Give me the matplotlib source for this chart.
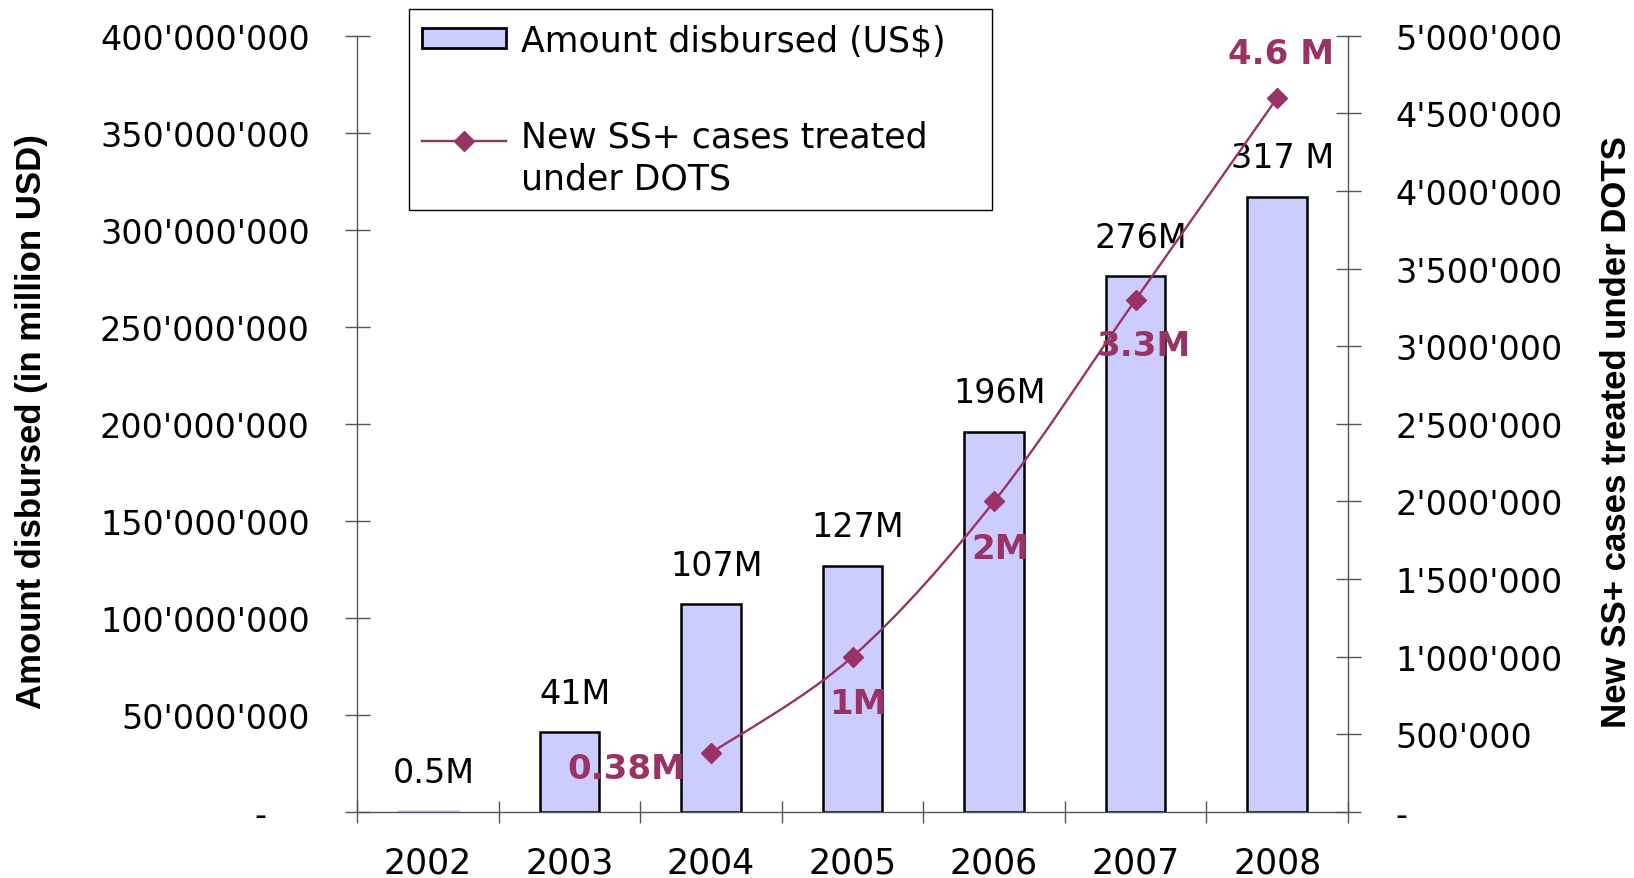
import matplotlib
matplotlib.use('Agg')
import matplotlib.pyplot as plt
from matplotlib.path import Path
from matplotlib.patches import PathPatch
from matplotlib.lines import Line2D
from matplotlib.offsetbox import HPacker, DrawingArea
from matplotlib.ticker import FuncFormatter, MultipleLocator

years = ['2002', '2003', '2004', '2005', '2006', '2007', '2008']
disbursed = [0.5e6, 41e6, 107e6, 127e6, 196e6, 276e6, 317e6]
disbursed_labels = ['0.5M', '41M', '107M', '127M', '196M', '276M', '317 M']

case_years = ['2004', '2005', '2006', '2007', '2008']
cases = [0.38e6, 1.0e6, 2.0e6, 3.3e6, 4.6e6]
case_labels = ['0.38M', '1M', '2M', '3.3M', '4.6 M']
# label placement around each marker, in points
case_label_offsets = [(-61, -11), (4, -34), (4, -34), (6, -33), (3, 32)]

bar_color = '#CCCCFF'
line_color = '#993366'
axis_color = '#555555'

plt.rcParams['font.family'] = 'DejaVu Sans'

fig = plt.figure(figsize=(16.34, 8.79), dpi=100)
ax = fig.add_axes([357 / 1634, 1 - 813 / 879, 991 / 1634, 776.3 / 879])
ax2 = ax.twinx()


def apostrophe(v, pos):
    if v == 0:
        return '-'
    return f'{v:,.0f}'.replace(',', "'")


def apostrophe_left(v, pos):
    if v == 0:
        return '-    '
    return apostrophe(v, pos)


# bars: amount disbursed (a sliver of a bar gets no outline)
xs = list(range(len(years)))
edges = ['black' if v >= 5e6 else bar_color for v in disbursed]
bars = ax.bar(xs, disbursed, width=0.42, color=bar_color, edgecolor=edges,
              linewidth=1.8, zorder=2)
for x, v, lab in zip(xs, disbursed, disbursed_labels):
    ax.annotate(lab, (x, v), xytext=(4, 28), textcoords='offset points',
                ha='center', va='center', fontsize=24, color='black', zorder=3)

ax.set_xlim(-0.5, len(years) - 0.5)
ax.set_ylim(0, 400e6)
ax.yaxis.set_major_locator(MultipleLocator(50e6))
ax.yaxis.set_major_formatter(FuncFormatter(apostrophe_left))
ax.set_xticks([i - 0.5 for i in range(len(years) + 1)])
ax.set_xticklabels([])
ax.set_xticks(xs, minor=True)
ax.set_xticklabels(years, minor=True)
ax.tick_params(axis='x', which='major', direction='inout', length=16,
               width=1, color=axis_color)
ax.tick_params(axis='x', which='minor', length=0, pad=24, labelsize=25)
ax.tick_params(axis='y', direction='inout', length=18, width=1,
               color=axis_color, pad=25, labelsize=24)

# smoothed line for cases treated (cubic bezier through the points)
cx = [years.index(y) for y in case_years]
pts = list(zip(cx, cases))
verts = [pts[0]]
codes = [Path.MOVETO]
for i in range(len(pts) - 1):
    p0 = pts[i - 1] if i > 0 else pts[i]
    p1 = pts[i]
    p2 = pts[i + 1]
    p3 = pts[i + 2] if i + 2 < len(pts) else pts[i + 1]
    c1 = (p1[0] + (p2[0] - p0[0]) / 6, p1[1] + (p2[1] - p0[1]) / 6)
    c2 = (p2[0] - (p3[0] - p1[0]) / 6, p2[1] - (p3[1] - p1[1]) / 6)
    verts += [c1, c2, p2]
    codes += [Path.CURVE4] * 3
ax2.add_patch(PathPatch(Path(verts, codes), fill=False, edgecolor=line_color,
                        linewidth=1.7, zorder=2))
ax2.plot(cx, cases, linestyle='none', marker='D', markersize=10,
         color=line_color, zorder=3)
for x, v, lab, off in zip(cx, cases, case_labels, case_label_offsets):
    ax2.annotate(lab, (x, v), xytext=off, textcoords='offset points',
                 ha='center', va='center', fontsize=24.5, fontweight='bold',
                 color=line_color, zorder=4)

ax2.set_ylim(0, 5e6)
ax2.yaxis.set_major_locator(MultipleLocator(500e3))
ax2.yaxis.set_major_formatter(FuncFormatter(apostrophe))
ax2.tick_params(axis='y', direction='inout', length=18, width=1,
                color=axis_color, pad=25, labelsize=24)

for a in (ax, ax2):
    a.spines['top'].set_visible(False)
    for s in a.spines.values():
        s.set_color(axis_color)
        s.set_linewidth(1)
ax.spines['right'].set_visible(False)
ax2.spines['left'].set_visible(False)
ax2.spines['bottom'].set_visible(False)

title_font = ['Liberation Sans Narrow', 'Liberation Sans']
fig.text(32 / 1634, 1 - 422 / 879, 'Amount disbursed (in million USD)',
         rotation=90, ha='center', va='center', fontsize=25,
         fontweight='bold', family=title_font)
fig.text(1617 / 1634, 1 - 432 / 879, 'New SS+ cases treated under DOTS',
         rotation=90, ha='center', va='center', fontsize=25,
         fontweight='bold', family=title_font)

line_handle = Line2D([], [], color=line_color, linewidth=1.7, marker='D',
                     markersize=10)
leg = fig.legend([bars, line_handle],
                 ['Amount disbursed (US$)', 'New SS+ cases treated\nunder DOTS'],
                 loc='upper left', mode='expand',
                 bbox_to_anchor=(408.5 / 1634, 1 - 10.4 / 879, 583.5 / 1634, 0),
                 borderaxespad=0, fontsize=25, handlelength=2.42,
                 handleheight=0.55, handletextpad=0.43, borderpad=0.4,
                 labelspacing=1.8, fancybox=False, framealpha=1,
                 edgecolor='black')
leg.get_frame().set_linewidth(1)
leg.legend_handles[0].set_edgecolor('black')
leg.legend_handles[0].set_linewidth(2)
leg.get_texts()[1].set_linespacing(1.3)

# put the line handle level with the first line of its two-line label
for box in leg.findobj(HPacker):
    kids = box.get_children()
    if len(kids) == 2 and isinstance(kids[0], DrawingArea) and \
            '\n' in kids[1].get_text():
        box.align = 'top'
        kids[0].height = 22.5

fig.savefig('out.png', dpi=100, facecolor='white')
